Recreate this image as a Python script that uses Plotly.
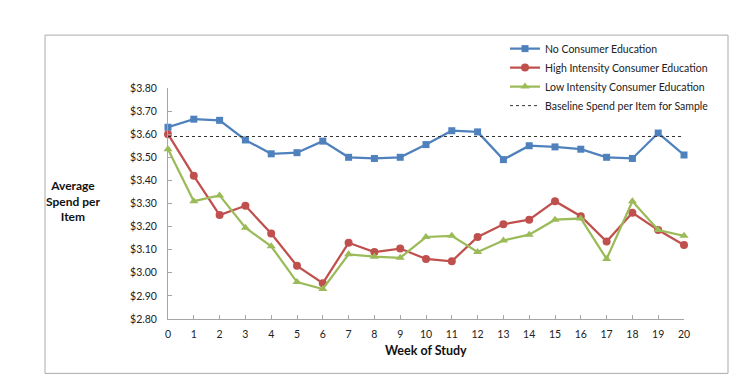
import plotly.graph_objects as go

weeks = list(range(21))
tick_labels = [str(w) for w in weeks]
y_ticks = [2.80, 2.90, 3.00, 3.10, 3.20, 3.30, 3.40, 3.50, 3.60, 3.70, 3.80]

no_education = [3.63, 3.665, 3.66, 3.575, 3.515, 3.52, 3.57, 3.50, 3.495, 3.50, 3.555,
                3.615, 3.61, 3.49, 3.55, 3.545, 3.535, 3.50, 3.495, 3.605, 3.51]
high_intensity = [3.60, 3.42, 3.25, 3.29, 3.17, 3.03, 2.955, 3.13, 3.09, 3.105, 3.06,
                  3.05, 3.155, 3.21, 3.23, 3.31, 3.245, 3.135, 3.26, 3.185, 3.12]
low_intensity = [3.535, 3.31, 3.335, 3.195, 3.115, 2.96, 2.93, 3.08, 3.07, 3.065, 3.155,
                 3.16, 3.09, 3.14, 3.165, 3.23, 3.235, 3.06, 3.31, 3.185, 3.16]
baseline_value = 3.59
baseline_weeks = [0, 20]

FONT = "Lato, 'Open Sans', sans-serif"

fig = go.Figure()
fig.add_trace(go.Scatter(x=weeks, y=no_education, name="No Consumer Education",
                         mode="lines+markers", line=dict(color="#4F81BD", width=2.25),
                         marker=dict(symbol="square", size=7, color="#4F81BD")))
fig.add_trace(go.Scatter(x=weeks, y=high_intensity, name="High Intensity Consumer Education",
                         mode="lines+markers", line=dict(color="#C0504D", width=2.25),
                         marker=dict(symbol="circle", size=8, color="#C0504D")))
fig.add_trace(go.Scatter(x=weeks, y=low_intensity, name="Low Intensity Consumer Education",
                         mode="lines+markers", line=dict(color="#9BBB59", width=2.25),
                         marker=dict(symbol="triangle-up", size=8, color="#9BBB59")))
fig.add_trace(go.Scatter(x=baseline_weeks, y=[baseline_value] * len(baseline_weeks),
                         name="Baseline Spend per Item for Sample", mode="lines",
                         line=dict(color="#333333", width=1, dash="dot")))

L, R, T, B = 160, 676, 80, 311.5
W = R - L
H = B - T

def px(x):
    return (x - L) / W

def py(y):
    return (B - y) / H

fig.update_traces(cliponaxis=False)

fig.update_layout(
    width=754, height=386,
    margin=dict(l=L, r=754 - R, t=T, b=386 - B, pad=0),
    paper_bgcolor="white", plot_bgcolor="white",
    font=dict(family=FONT, size=10.5, color="#222222"),
    showlegend=True,
    legend=dict(x=px(497), y=py(26), xanchor="left", yanchor="top",
                font=dict(size=10.5, family=FONT), bgcolor="rgba(0,0,0,0)",
                tracegroupgap=0, itemwidth=30),
    xaxis=dict(range=[0, 20], tickmode="array", tickvals=weeks, ticktext=tick_labels,
               showgrid=False, zeroline=False, showline=True, linecolor="#A6A6A6",
               linewidth=1, ticks="inside", ticklen=4, tickcolor="#A6A6A6",
               tickfont=dict(size=10.5), ticklabelstandoff=5),
    yaxis=dict(range=[2.80, 3.80], tickmode="array", tickvals=y_ticks,
               ticktext=["${:.2f}".format(v) for v in y_ticks],
               showgrid=False, zeroline=False, showline=True, linecolor="#A6A6A6",
               linewidth=1, ticks="inside", ticklen=4, tickcolor="#A6A6A6",
               tickfont=dict(size=10.5), ticklabelstandoff=8),
    shapes=[dict(type="rect", xref="paper", yref="paper",
                 x0=px(37), x1=px(720), y0=py(366), y1=py(27),
                 line=dict(color="#AAAAAA", width=1), fillcolor="rgba(0,0,0,0)",
                 layer="below")],
    annotations=[
        dict(text="<b>Average<br>Spend per<br>Item</b>", xref="paper", yref="paper",
             x=px(65), y=py(193), xanchor="center", yanchor="middle", showarrow=False,
             align="center", font=dict(size=12, family=FONT, color="#111111")),
        dict(text="<b>Week of Study</b>", xref="paper", yref="paper",
             x=px(418), y=py(343), xanchor="center", yanchor="middle", showarrow=False,
             font=dict(size=12.5, family=FONT, color="#111111")),
    ],
)

fig.write_html("out.html")
